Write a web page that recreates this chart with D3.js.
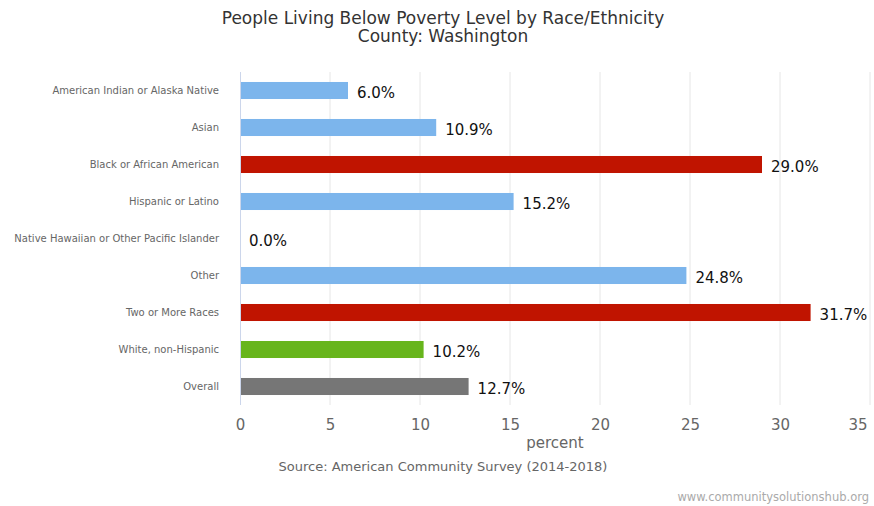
<!DOCTYPE html>
<html><head><meta charset="utf-8">
<script src="https://cdn.jsdelivr.net/npm/d3@7"></script>
<style>body{margin:0;background:#fff}svg{display:block;font-family:"DejaVu Sans",sans-serif}</style>
</head><body><svg id="c" width="874" height="506"></svg>
<script>
const categories = ["American Indian or Alaska Native","Asian","Black or African American","Hispanic or Latino","Native Hawaiian or Other Pacific Islander","Other","Two or More Races","White, non-Hispanic","Overall"];
const values = [6.0,10.9,29.0,15.2,0.0,24.8,31.7,10.2,12.7];
const colorGroups = ["normal","normal","high","normal","normal","normal","high","white","overall"];
const tickValues = [0,5,10,15,20,25,30,35];
const palette = {normal:"#7cb5ec", high:"#c01400", white:"#67b51c", overall:"#767676"};

const svg = d3.select("#c");
const x = d3.scaleLinear().domain([0,35]).range([240,870]);
const y = d3.scaleBand().domain(categories).range([72,405]).paddingInner(0.54).paddingOuter(0.27);

svg.append("g").selectAll("line").data(tickValues.slice(1)).join("line")
  .attr("x1",d=>x(d)).attr("x2",d=>x(d)).attr("y1",72).attr("y2",405)
  .attr("stroke","#e6e6e6").attr("stroke-width",1);

svg.append("g").selectAll("rect").data(values).join("rect")
  .attr("x",x(0)).attr("y",(d,i)=>y(categories[i]))
  .attr("width",d=>x(d)-x(0)).attr("height",y.bandwidth())
  .attr("fill",(d,i)=>palette[colorGroups[i]]);

svg.append("line").attr("x1",x(0)+0.5).attr("x2",x(0)+0.5).attr("y1",72).attr("y2",405)
  .attr("stroke","#ccd6eb");

svg.append("g").selectAll("text").data(values).join("text")
  .attr("x",d=>x(d)+9).attr("y",(d,i)=>y(categories[i])+y.bandwidth()/2+7)
  .attr("font-size",15).attr("fill","#111").text(d=>d.toFixed(1)+"%");

svg.append("g").selectAll("text").data(categories).join("text")
  .attr("x",219).attr("y",d=>y(d)+y.bandwidth()/2+3.5).attr("text-anchor","end")
  .attr("font-size",10).attr("fill","#666").text(d=>d);

const xa = svg.append("g").attr("transform","translate(0,405)")
  .call(d3.axisBottom(x).tickValues(tickValues).tickSize(0).tickPadding(14));
xa.select(".domain").remove();
xa.selectAll("text").attr("font-size",15).attr("fill","#666").attr("font-family","DejaVu Sans");
xa.selectAll(".tick").filter(d=>d===35).select("text").attr("text-anchor","end").attr("dx","-3");

svg.append("text").attr("x",555).attr("y",448).attr("text-anchor","middle")
  .attr("font-size",15).attr("fill","#666").text("percent");

svg.append("text").attr("x",443).attr("y",24).attr("text-anchor","middle")
  .attr("font-size",17).attr("fill","#333").text("People Living Below Poverty Level by Race/Ethnicity");
svg.append("text").attr("x",443).attr("y",42).attr("text-anchor","middle")
  .attr("font-size",17).attr("fill","#333").text("County: Washington");

svg.append("text").attr("x",443).attr("y",471).attr("text-anchor","middle")
  .attr("font-size",13).attr("fill","#666").text("Source: American Community Survey (2014-2018)");

svg.append("text").attr("x",869).attr("y",501).attr("text-anchor","end")
  .attr("font-size",11.5).attr("fill","#aaa").text("www.communitysolutionshub.org");
</script></body></html>
